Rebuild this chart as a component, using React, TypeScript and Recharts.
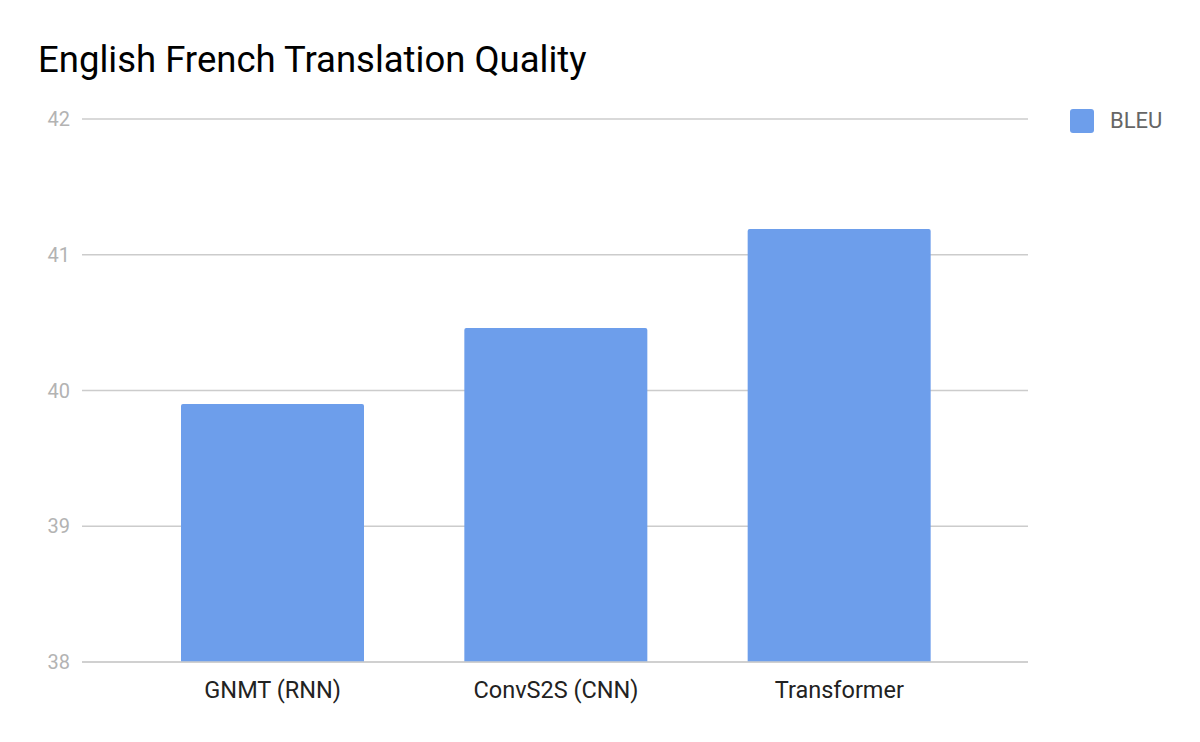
import React from "react";
import { BarChart, Bar, XAxis, YAxis, CartesianGrid } from "recharts";

const models = ["GNMT (RNN)", "ConvS2S (CNN)", "Transformer"];
const bleu = [39.9, 40.46, 41.19];
const yTicks = [38, 39, 40, 41, 42];

const data = models.map((name, i) => ({ name, BLEU: bleu[i] }));

const font = "Roboto, 'Noto Sans', sans-serif";

const App = () => {
  return (
    <div
      style={{
        position: "absolute",
        left: 0,
        top: 0,
        width: 1200,
        height: 742,
        background: "#fff",
      }}
    >
      <div
        style={{
          position: "absolute",
          left: 38,
          top: 39,
          fontFamily: font,
          fontSize: 36.5,
          lineHeight: "42px",
          color: "#000",
          whiteSpace: "nowrap",
        }}
      >
        English French Translation Quality
      </div>
      {/* legend */}
      <div
        style={{
          position: "absolute",
          left: 1070,
          top: 108,
          display: "flex",
          alignItems: "center",
          fontFamily: font,
        }}
      >
        <div
          style={{
            width: 24,
            height: 24,
            background: "#6d9eeb",
            borderRadius: 3,
            marginRight: 16,
          }}
        />
        <span style={{ fontSize: 22, color: "#666666" }}>BLEU</span>
      </div>
      <BarChart
        width={1200}
        height={742}
        data={data}
        margin={{ top: 119, right: 172, bottom: 0, left: 0 }}
      >
        <CartesianGrid vertical={false} stroke="#cccccc" strokeWidth={1.5} />
        <XAxis
          dataKey="name"
          height={80}
          padding={{ left: 49, right: 47 }}
          axisLine={{ stroke: "#cccccc", strokeWidth: 1.5 }}
          tickLine={false}
          tickSize={0}
          tickMargin={19}
          tick={{ fill: "#222222", fontSize: 23.5, fontFamily: font }}
        />
        <YAxis
          width={82}
          domain={[38, 42]}
          ticks={yTicks}
          axisLine={false}
          tickLine={false}
          tickSize={0}
          tickMargin={12}
          tick={{ fill: "#b3b3b3", fontSize: 20, fontFamily: font }}
        />
        <Bar
          dataKey="BLEU"
          fill="#6d9eeb"
          barSize={183}
          radius={[2, 2, 0, 0]}
          isAnimationActive={false}
        />
      </BarChart>
    </div>
  );
};

export default App;
